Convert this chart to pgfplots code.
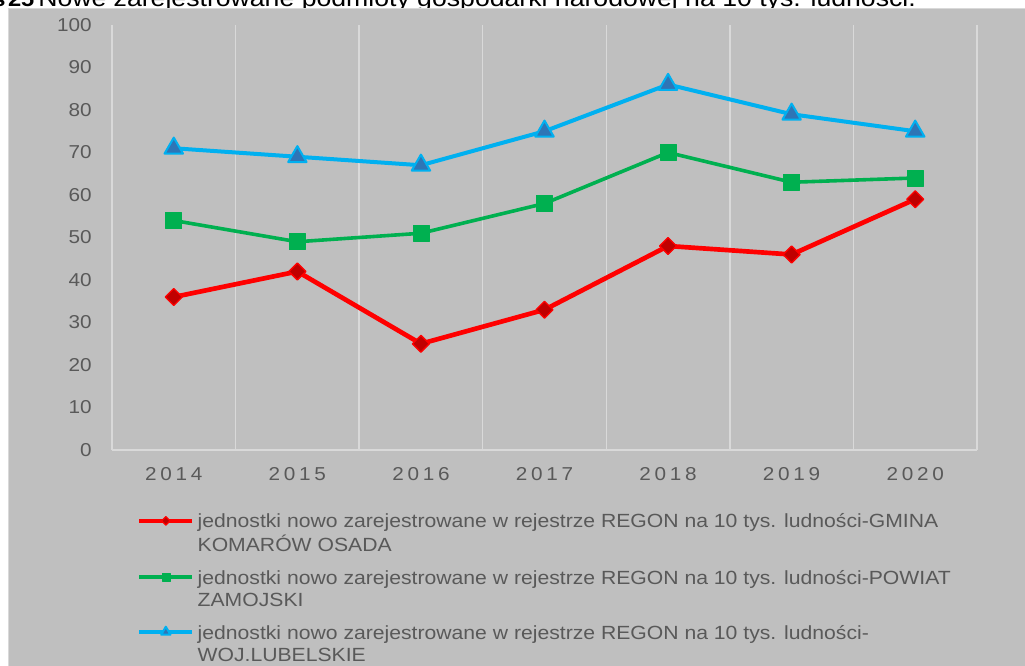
\documentclass[border=0pt]{standalone}
\usepackage{fontspec}
\setmainfont{Liberation Sans}[FakeStretch=1.11]
\newfontfamily\spacedfont{Liberation Sans}[FakeStretch=1.11,LetterSpace=20]
\usepackage{pgfplots}
\pgfplotsset{compat=1.18}
\definecolor{bg}{RGB}{191,191,191}
\definecolor{gridc}{RGB}{217,217,217}
\definecolor{textc}{RGB}{89,89,89}
\definecolor{redl}{RGB}{255,0,0}
\definecolor{redm}{RGB}{192,0,0}
\definecolor{greenl}{RGB}{0,176,80}
\definecolor{bluel}{RGB}{0,176,240}
\definecolor{bluem}{RGB}{46,117,182}
\begin{document}
\begin{tikzpicture}
\fill[white] (0,0) rectangle (768.75pt,-499.5pt);
\node[anchor=base east, inner sep=0pt, font=\fontsize{16pt}{19pt}\selectfont\bfseries] at (26pt,-4.9pt) {Wykres\hspace{0.12em}25};
\node[anchor=base west, inner sep=0pt, font=\fontsize{18pt}{21.6pt}\selectfont] at (28.5pt,-4.9pt) {Nowe zarejestrowane podmioty gospodarki narodowej na 10 tys. ludności.};
\filldraw[fill=bg, draw=gridc, line width=0.75pt] (6pt,-6.75pt) rectangle (772pt,-503pt);
\begin{axis}[
 at={(84pt,-337.5pt)}, anchor=south west,
 scale only axis, width=648.75pt, height=318.75pt,
 xmin=-0.5, xmax=6.5, ymin=0, ymax=100,
 axis x line*=bottom, axis y line*=left,
 axis line style={draw=gridc, line width=1.1pt, -},
 xtick={0,...,6},
 xticklabels={2014,2015,2016,2017,2018,2019,2020},
 ytick={0,10,...,100},
 minor xtick={-0.5,0.5,...,6.5},
 xminorgrids=true,
 minor grid style={draw=gridc, line width=1.1pt},
 major tick length=0pt, minor tick length=0pt,
 /pgf/number format/assume math mode=true,
 tick label style={text=textc, inner sep=0pt},
 yticklabel style={font=\fontsize{14pt}{16.8pt}\selectfont, anchor=east, xshift=-15pt},
 xticklabel style={font=\fontsize{14pt}{16.8pt}\selectfont\spacedfont, anchor=north, yshift=-12.75pt},
 clip=false,
 legend style={at={(0.0289,-0.147)}, anchor=north west, draw=none, fill=none, inner sep=0pt, outer sep=0pt, row sep=8.25pt, column sep=2.25pt, font=\fontsize{14.3pt}{16.5pt}\selectfont, text=textc, nodes={inner sep=0pt, text depth=}, cells={anchor=base west}},
 legend image code/.code={
   \begin{scope}[scale=0.5]
   \draw[mark repeat=2, mark phase=2, #1] plot coordinates {(0pt,10.5pt) (39.75pt,10.5pt) (79.5pt,10.5pt)};
   \end{scope}
 },
]
\addplot[redl, line width=3.5pt, line join=round, mark=square*, mark size=4.5pt, mark options={rotate=45, fill=redm, draw=redl, line width=1pt, solid}] coordinates {(0,36)(1,42)(2,25)(3,33)(4,48)(5,46)(6,59)};
\addlegendentry{{\begin{tabular}[t]{@{}l@{}}jednostki nowo zarejestrowane w rejestrze REGON na 10 tys. ludności-GMINA\\KOMARÓW OSADA\end{tabular}}}
\addplot[greenl, line width=2.7pt, line join=round, mark=square*, mark size=6pt, mark options={fill=greenl, draw=greenl, line width=0.5pt, solid}] coordinates {(0,54)(1,49)(2,51)(3,58)(4,70)(5,63)(6,64)};
\addlegendentry{{\begin{tabular}[t]{@{}l@{}}jednostki nowo zarejestrowane w rejestrze REGON na 10 tys. ludności-POWIAT\\ZAMOJSKI\end{tabular}}}
\addplot[bluel, line width=3pt, line join=round, mark=triangle*, mark size=8pt, mark options={fill=bluem, draw=bluel, line width=1.5pt, solid}] coordinates {(0,71)(1,69)(2,67)(3,75)(4,86)(5,79)(6,75)};
\addlegendentry{{\begin{tabular}[t]{@{}l@{}}jednostki nowo zarejestrowane w rejestrze REGON na 10 tys. ludności-\\WOJ.LUBELSKIE\end{tabular}}}
\end{axis}
\pgfresetboundingbox
\useasboundingbox (0,0) rectangle (768.75pt,-499.5pt);
\end{tikzpicture}
\end{document}
